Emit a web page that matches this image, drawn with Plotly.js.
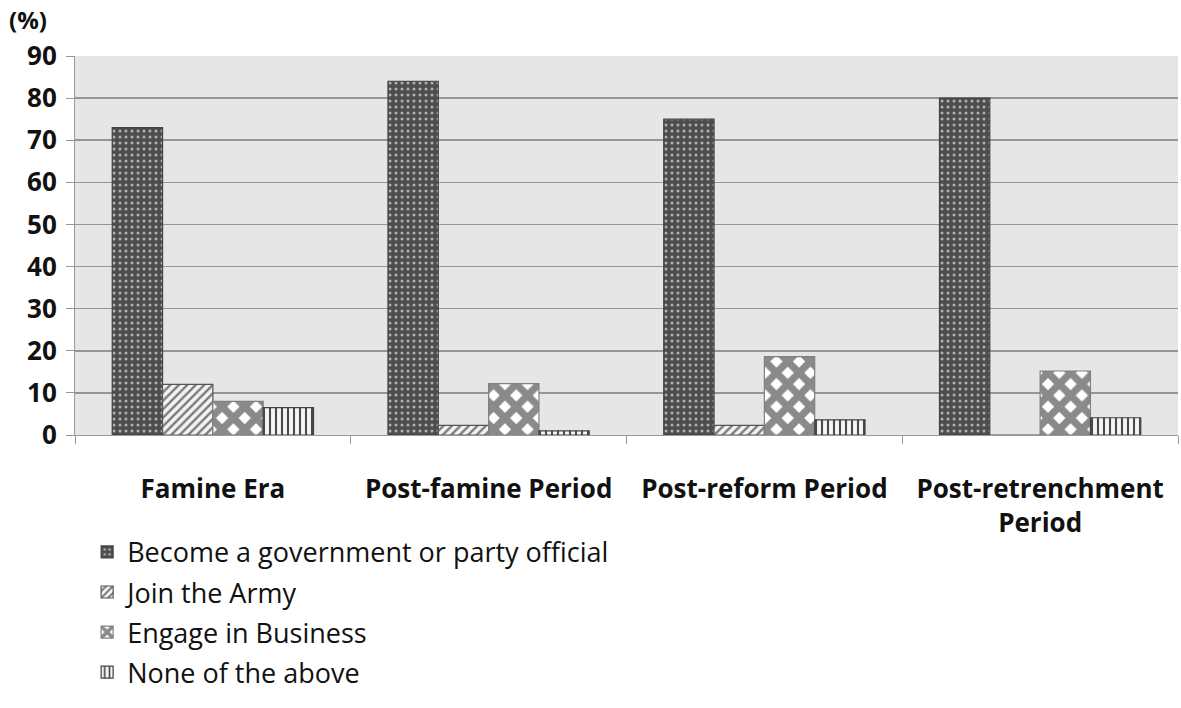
<!DOCTYPE html>
<html>
<head>
<meta charset="utf-8">
<script src="https://cdn.plot.ly/plotly-3.0.1.min.js"></script>
<style>html,body{margin:0;padding:0;background:#fff;}#chart{width:1181px;height:708px;}</style>
</head>
<body>
<div id="chart"></div>
<script>
const categories = ["Famine Era", "Post-famine Period", "Post-reform Period", "Post-retrenchment<br>Period"];
const seriesNames = ["Become a government or party official", "Join the Army", "Engage in Business", "None of the above"];
const official = [73, 84, 75, 80];
const army = [12, 2.3, 2.3, 0];
const business = [8, 12.2, 18.6, 15.2];
const none = [6.5, 1.0, 3.6, 4.1];
const yTicks = [0, 10, 20, 30, 40, 50, 60, 70, 80, 90];

const FONT = "'Open Sans', 'DejaVu Sans', sans-serif";
const values = [official, army, business, none];
const styles = [
  {color: "#4d4d4d", pattern: {shape: ".", bgcolor: "#4d4d4d", fgcolor: "#b0b0b0", size: 6, solidity: 0.2, fillmode: "replace"}, line: "#444"},
  {color: "#ffffff", pattern: {shape: "/", bgcolor: "#f4f4f4", fgcolor: "#7a7a7a", size: 6, solidity: 0.4, fillmode: "replace"}, line: "#555"},
  {color: "#ffffff", pattern: {shape: "x", bgcolor: "#ffffff", fgcolor: "#8a8a8a", size: 16, solidity: 0.7, fillmode: "replace"}, line: "#808080"},
  {color: "#ffffff", pattern: {shape: "|", bgcolor: "#f5f5f5", fgcolor: "#4a4a4a", size: 6, solidity: 0.35, fillmode: "replace"}, line: "#444"}
];

const traces = values.map((v, i) => ({
  type: "bar",
  name: seriesNames[i],
  legendgroup: "g" + i,
  x: categories,
  y: v,
  marker: {color: styles[i].color, pattern: styles[i].pattern, line: {color: styles[i].line, width: 1.2}},
  hoverinfo: "x+y+name"
}));

const layout = {
  width: 1181, height: 708,
  margin: {l: 75, r: 3, t: 56, b: 273},
  paper_bgcolor: "#ffffff",
  plot_bgcolor: "#e6e6e6",
  barmode: "group",
  bargap: 0.27,
  bargroupgap: 0,
  font: {family: FONT, color: "#111"},
  xaxis: {
    type: "category",
    showline: true, linecolor: "#999", linewidth: 1,
    ticks: "outside", tickson: "boundaries", ticklen: 8, tickcolor: "#999",
    ticklabelstandoff: 31,
    tickfont: {family: FONT, size: 26, color: "#111", weight: "bold"},
    showgrid: false, fixedrange: true
  },
  yaxis: {
    range: [0, 90], tickvals: yTicks, ticktext: yTicks.map(String),
    showline: true, linecolor: "#999", linewidth: 1,
    ticks: "outside", ticklen: 8, tickcolor: "#999",
    ticklabelstandoff: 4,
    gridcolor: "#959595", gridwidth: 1.5,
    zeroline: false,
    tickfont: {family: FONT, size: 26, color: "#111", weight: "bold"},
    fixedrange: true
  },
  showlegend: true,
  legend: {
    orientation: "v", x: 0.011, xanchor: "left", y: -0.245, yanchor: "top",
    font: {family: FONT, size: 27, color: "#111"},
    tracegroupgap: 2, itemwidth: 30, bgcolor: "rgba(0,0,0,0)"
  },
  annotations: [{
    text: "(%)", xref: "paper", yref: "paper", x: -0.062, y: 1.095, xanchor: "left", yanchor: "middle",
    showarrow: false, font: {family: FONT, size: 24, color: "#111", weight: "bold"}
  }]
};

Plotly.newPlot("chart", traces, layout, {displayModeBar: false, staticPlot: true});
</script>
</body>
</html>
